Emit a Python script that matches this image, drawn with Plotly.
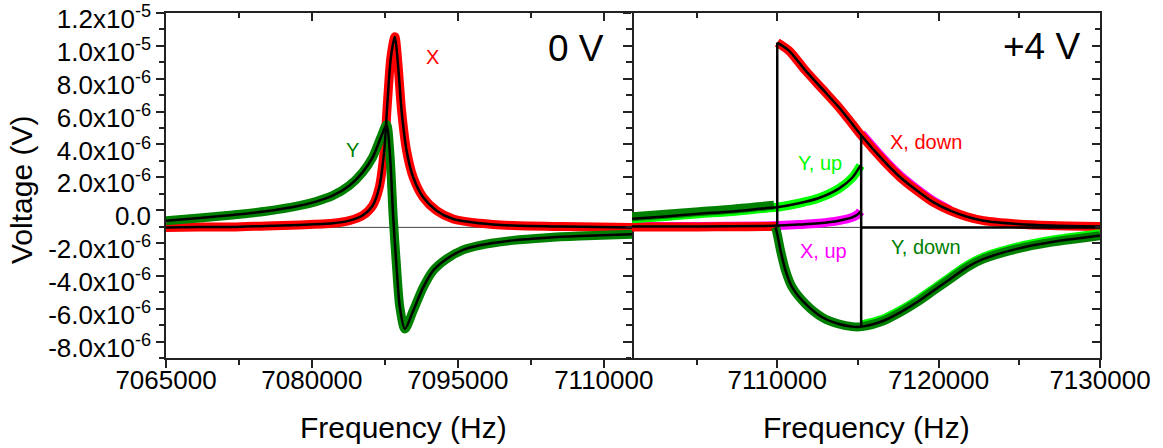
import plotly.graph_objects as go

# ---------------- data (frequency in Hz, voltage in µV) ----------------
# 0 V panel: X (in-phase) and Y (quadrature)
f0_x = [7065000, 7068425, 7071850, 7075274, 7078700, 7082125, 7083835, 7085205, 7086235, 7086920,
        7087430, 7087775, 7088117, 7088527, 7088870, 7089215, 7089730, 7090410, 7091435, 7092810,
        7094520, 7097260, 7100680, 7105820, 7112900]
v0_x = [-1.05, -1.03, -1.03, -0.96, -0.90, -0.80, -0.64, -0.33, 0.27, 1.39,
        3.62, 6.66, 9.30, 10.55, 8.69, 6.06, 3.62, 2.00, 0.78, -0.03,
        -0.54, -0.80, -0.94, -1.00, -1.05]

f0_y = [7065000, 7068425, 7071850, 7075274, 7078700, 7080411, 7082125, 7083835, 7085205, 7086235,
        7087090, 7087675, 7088014, 7088357, 7088700, 7089040, 7089555, 7090410, 7091435, 7092460,
        7093830, 7095545, 7097260, 7100680, 7104110, 7107535, 7112900]
v0_y = [-0.64, -0.48, -0.29, -0.07, 0.27, 0.52, 0.88, 1.49, 2.30, 3.21,
        4.43, 5.20, 3.42, -0.44, -3.48, -5.92, -7.23, -6.12, -4.70, -3.68,
        -2.97, -2.42, -2.14, -1.84, -1.68, -1.58, -1.47]

# +4 V panel
f4_xdown_hi = [7110000, 7110723, 7111756, 7112788, 7113820, 7114647, 7115225, 7116588, 7117621,
               7118654, 7119687, 7120719, 7121754, 7122782, 7124852, 7126915, 7130000]
v4_xdown_hi = [10.2, 9.71, 8.49, 7.38, 6.26, 5.25, 4.53, 3.01, 2.00,
               1.19, 0.47, -0.03, -0.40, -0.64, -0.84, -0.94, -1.00]

f4_xdown_lo = [7101000, 7103079, 7105148, 7107212, 7109275, 7110000]
v4_xdown_lo = [-1.03, -1.03, -1.02, -1.01, -1.00, -1.00]

f4_xup = [7101000, 7105148, 7109275, 7110103, 7111345, 7112584, 7113820, 7114647, 7115000, 7115163]
v4_xup = [-1.00, -0.99, -0.96, -0.94, -0.88, -0.80, -0.64, -0.44, -0.25, -0.07]

f4_xup_after = [7115225, 7116588, 7117621, 7118654, 7119687, 7120719]
v4_xup_after = [4.65, 3.12, 2.10, 1.28, 0.55, 0.00]

f4_yup = [7101000, 7103079, 7105148, 7107212, 7109275, 7110000, 7111345, 7112584, 7113820, 7114647, 7115163]
v4_yup = [-0.53, -0.38, -0.22, -0.08, 0.12, 0.18, 0.42, 0.74, 1.31, 1.97, 2.72]

f4_yup_after = [7115225, 7116588, 7117621, 7118654, 7119687, 7120719, 7121754, 7122782, 7124852, 7126915, 7130000]
v4_yup_after = [-6.98, -6.62, -6.11, -5.50, -4.79, -4.08, -3.37, -2.86, -2.25, -1.85, -1.44]

f4_ydown_hi = [7109897, 7110000, 7110207, 7110516, 7110929, 7111756, 7112788, 7113820, 7114647, 7115225,
               7116588, 7117621, 7118654, 7119687, 7120719, 7121754, 7122782, 7124852, 7126915, 7130000]
v4_ydown_hi = [-1.05, -1.45, -2.47, -3.68, -4.70, -5.71, -6.52, -6.93, -7.09, -7.09,
               -6.73, -6.22, -5.61, -4.90, -4.19, -3.48, -2.97, -2.36, -1.96, -1.55]

f4_ydown_lo = [7101000, 7103079, 7105148, 7107212, 7109275, 7109800]
v4_ydown_lo = [-0.40, -0.25, -0.09, 0.05, 0.25, 0.30]

JUMP_DOWN_F = 7110000   # jump of the down sweep
JUMP_UP_F = 7115200     # jump of the up sweep
BASELINE = -1.05        # µV, thin reference line

# axis ticks
y_tickvals = [-8, -6, -4, -2, 0, 2, 4, 6, 8, 10, 12]
y_ticktext = ["-8.0x10<sup>-6</sup>", "-6.0x10<sup>-6</sup>", "-4.0x10<sup>-6</sup>", "-2.0x10<sup>-6</sup>",
              "0.0", "2.0x10<sup>-6</sup>", "4.0x10<sup>-6</sup>", "6.0x10<sup>-6</sup>",
              "8.0x10<sup>-6</sup>", "1.0x10<sup>-5</sup>", "1.2x10<sup>-5</sup>"]
Y_RANGE = [-9, 12]
X0_RANGE = [7065000, 7112900]
X4_RANGE = [7101000, 7130000]

U = 1e-6
def sc(v):
    return [a * U for a in v]

# ---------------- colours / styles ----------------
RED = "#ff0000"
DGREEN = "#008000"
LGREEN = "#00ff00"
MAGENTA = "#ff00ff"
BLACK = "#000000"
FONT = "Liberation Sans, Arial, sans-serif"
DW = 9      # data band width
FW = 2.5    # fit line width

W, H = 1163, 448
L, R, T, B = 166, 63, 13, 90
PW, PH = W - L - R, H - T - B
SPLIT = (632 - L) / PW


def px(x):
    return (x - L) / PW


def py(y):
    return (H - B - y) / PH


fig = go.Figure()


def add(f, v, color, width, xa="x", ya="y"):
    fig.add_trace(go.Scatter(x=f, y=sc(v), mode="lines", line=dict(color=color, width=width, shape="spline", smoothing=0.8),
                             xaxis=xa, yaxis=ya, showlegend=False, hoverinfo="skip"))


def seg(f, v, color, width, xa, ya):
    fig.add_trace(go.Scatter(x=f, y=sc(v), mode="lines", line=dict(color=color, width=width),
                             xaxis=xa, yaxis=ya, showlegend=False, hoverinfo="skip"))


# ---- 0 V panel ----
add(f0_x, v0_x, RED, DW)
add(f0_y, v0_y, DGREEN, DW)
add(f0_x, v0_x, BLACK, FW)
add(f0_y, v0_y, BLACK, FW)

# ---- +4 V panel ----
xa, ya = "x2", "y2"
add(f4_xup, v4_xup, MAGENTA, DW, xa, ya)
add(f4_xdown_lo, v4_xdown_lo, RED, DW, xa, ya)
add(f4_xup_after, v4_xup_after, MAGENTA, DW, xa, ya)
add(f4_xdown_hi, v4_xdown_hi, RED, DW, xa, ya)
add(f4_yup_after, v4_yup_after, LGREEN, DW, xa, ya)
add(f4_ydown_hi, v4_ydown_hi, DGREEN, DW, xa, ya)
add(f4_yup, v4_yup, LGREEN, DW, xa, ya)
add(f4_ydown_lo, v4_ydown_lo, DGREEN, DW, xa, ya)
# fits
add(f4_xup, v4_xup, BLACK, FW, xa, ya)
add(f4_xdown_hi, v4_xdown_hi, BLACK, FW, xa, ya)
add(f4_yup, v4_yup, BLACK, FW, xa, ya)
add(f4_ydown_hi, v4_ydown_hi, BLACK, FW, xa, ya)
seg([JUMP_DOWN_F, JUMP_DOWN_F], [v4_xdown_hi[0], v4_ydown_hi[0]], BLACK, FW, xa, ya)
seg([JUMP_UP_F, JUMP_UP_F], [min(v4_ydown_hi), v4_xdown_hi[6]], BLACK, FW, xa, ya)
seg([JUMP_UP_F, X4_RANGE[1]], [BASELINE, BASELINE], BLACK, FW, xa, ya)

# empty traces so that the mirrored / label-only axes are created
for xx, yy in [("x3", "y"), ("x", "y3"), ("x4", "y2"), ("x2", "y4"), ("x5", "y"), ("x6", "y2")]:
    fig.add_trace(go.Scatter(x=[], y=[], xaxis=xx, yaxis=yy, showlegend=False, hoverinfo="skip"))

# thin reference lines
for xr, yr in [("x domain", "y"), ("x2 domain", "y2")]:
    fig.add_shape(type="line", xref=xr, yref=yr, x0=0, x1=1, y0=BASELINE * U, y1=BASELINE * U,
                  line=dict(color="#444444", width=1), layer="below")

LINE = dict(showline=True, linecolor="#222222", linewidth=1.5, showgrid=False, zeroline=False)
TF = dict(family=FONT, size=26, color="#000000")
ytv = sc(y_tickvals)
yminor = sc(list(range(-9, 13)))


def xax(domain, rng, tick0, dtick, mdtick, anchor, side="bottom", ticks="outside", labels=False,
        overlaying=None, line=True):
    d = dict(LINE, domain=domain, range=rng, anchor=anchor, side=side, ticks=ticks, ticklen=8, tickwidth=1.5,
             tickcolor="#222222", tickmode="linear", tick0=tick0, dtick=dtick, tickformat="d",
             showticklabels=labels, tickfont=TF, ticklabeloverflow="allow")
    if ticks:
        d["minor"] = dict(ticks=ticks, ticklen=5, tickwidth=1.5, tickcolor="#222222", tick0=tick0, dtick=mdtick)
    else:
        d["ticklabelstandoff"] = 4
    d["showline"] = line
    if overlaying:
        d["overlaying"] = overlaying
    return d


def yax(anchor, side="left", ticks="outside", labels=True, overlaying=None, line=True):
    d = dict(LINE, domain=[0, 1], range=sc(Y_RANGE), anchor=anchor, side=side, ticks=ticks, ticklen=8,
             tickwidth=1.5, tickcolor="#222222", tickmode="array", tickvals=ytv, ticktext=y_ticktext,
             showticklabels=labels, tickfont=TF, ticklabeloverflow="allow", ticklabelshift=6,
             minor=dict(ticks=ticks, ticklen=5, tickwidth=1.5, tickcolor="#222222", tickmode="array", tickvals=yminor))
    d["showline"] = line
    if overlaying:
        d["overlaying"] = overlaying
    return d


annots = [
    dict(text="0 V", x=px(576), y=py(48), font=dict(size=37, color="#000000")),
    dict(text="+4 V", x=px(1041), y=py(47), font=dict(size=37, color="#000000")),
    dict(text="X", x=px(432), y=py(57), font=dict(size=20, color=RED)),
    dict(text="Y", x=px(352), y=py(150), font=dict(size=20, color=DGREEN)),
    dict(text="Y, up", x=px(820), y=py(163), font=dict(size=20, color=LGREEN)),
    dict(text="X, up", x=px(823), y=py(251), font=dict(size=20, color=MAGENTA)),
    dict(text="X, down", x=px(926), y=py(142), font=dict(size=20, color=RED)),
    dict(text="Y, down", x=px(926), y=py(247), font=dict(size=20, color=DGREEN)),
    dict(text="Voltage (V)", x=px(22), y=py(190), textangle=-90, font=dict(size=30, color="#000000")),
    dict(text="Frequency (Hz)", x=px(403), y=py(427), font=dict(size=30, color="#000000")),
    dict(text="Frequency (Hz)", x=px(866), y=py(427), font=dict(size=30, color="#000000")),
]
for a in annots:
    a.update(xref="paper", yref="paper", showarrow=False, xanchor="center", yanchor="middle")
    a["font"]["family"] = FONT

fig.update_layout(
    width=W, height=H, margin=dict(l=L, r=R, t=T, b=B, autoexpand=False),
    paper_bgcolor="white", plot_bgcolor="white", showlegend=False,
    xaxis=xax([0, SPLIT], X0_RANGE, 7065000, 15000, 7500, "y"),
    xaxis2=xax([SPLIT, 1], X4_RANGE, 7110000, 10000, 5000, "y2"),
    xaxis3=xax([0, SPLIT], X0_RANGE, 7065000, 15000, 7500, "y", side="top", ticks="inside", overlaying="x"),
    xaxis4=xax([SPLIT, 1], X4_RANGE, 7110000, 10000, 5000, "y2", side="top", ticks="inside", overlaying="x2"),
    xaxis5=xax([0, SPLIT], X0_RANGE, 7065000, 15000, 7500, "y", ticks="", labels=True, overlaying="x", line=False),
    xaxis6=xax([SPLIT, 1], X4_RANGE, 7110000, 10000, 5000, "y2", ticks="", labels=True, overlaying="x2", line=False),
    yaxis=yax("x"),
    yaxis2=yax("x2", labels=False, line=False),
    yaxis3=yax("x", side="right", ticks="inside", labels=False, overlaying="y"),
    yaxis4=yax("x2", side="right", ticks="inside", labels=False, overlaying="y2"),
    annotations=annots,
)

fig.write_html("out.html", config={"displayModeBar": False},
               post_script="document.body.style.margin='0px';document.body.style.padding='0px';")
